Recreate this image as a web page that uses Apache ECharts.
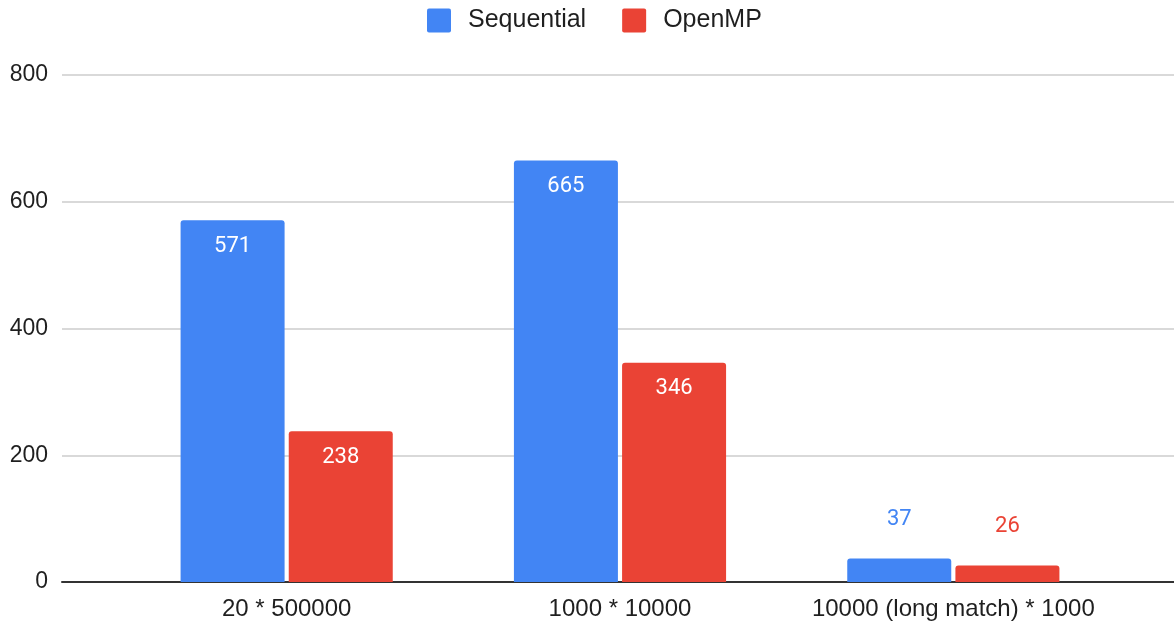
<!DOCTYPE html>
<html>
<head>
<meta charset="utf-8">
<script src="https://cdn.jsdelivr.net/npm/echarts@6/dist/echarts.min.js"></script>
<style>
  html, body { margin: 0; padding: 0; background: #fff; }
  #chart { width: 1174px; height: 623px; }
</style>
</head>
<body>
<div id="chart"></div>
<script>
// Run time per workload (lower is better)
const categories = ['20 * 500000', '1000 * 10000', '10000 (long match) * 1000'];
const seriesNames = ['Sequential', 'OpenMP'];
const sequentialValues = [571, 665, 37];
const openmpValues = [238, 346, 26];
const yMin = 0;
const yMax = 800;
const yInterval = 200;

const colors = ['#4285F4', '#EA4335'];
const textColor = '#1f1f1f';
const axisFont = '"Liberation Sans", Arial, sans-serif';
const labelFont = 'Roboto, "Noto Sans", sans-serif';
// square legend swatch with slightly softened corners
const swatch = 'path://M2,0H22A2,2 0 0 1 24,2V22A2,2 0 0 1 22,24H2A2,2 0 0 1 0,22V2A2,2 0 0 1 2,0Z';

// Tall bars carry their value inside near the top; short bars get it above in the series colour.
function withLabels(values, color) {
  return values.map(v => {
    const inside = v > 100;
    return {
      value: v,
      label: inside
        ? { position: 'insideTop', distance: 15, color: '#ffffff' }
        : { position: 'top', distance: 28, color: color }
    };
  });
}

const chart = echarts.init(document.getElementById('chart'), null, { renderer: 'canvas' });

chart.setOption({
  animation: false,
  color: colors,
  legend: {
    top: 3,
    left: 422,
    itemWidth: 24,
    itemHeight: 24,
    itemGap: 36,
    icon: swatch,
    textStyle: {
      fontFamily: axisFont,
      fontSize: 25,
      color: textColor,
      padding: [0, 0, 0, 12]
    },
    data: seriesNames
  },
  grid: [
    // full-width frame: value axis labels, gridlines and baseline
    { left: 62, right: 0, top: 75, bottom: 41 },
    // bar area
    { left: 120, right: 54, top: 75, bottom: 41 }
  ],
  xAxis: [
    {
      gridIndex: 0,
      type: 'value',
      min: 0,
      max: 1,
      axisLine: { show: true, lineStyle: { color: '#333333', width: 2 } },
      axisTick: { show: false },
      axisLabel: { show: false },
      splitLine: { show: false }
    },
    {
      gridIndex: 1,
      type: 'category',
      data: categories,
      axisLine: { show: false },
      axisTick: { show: false },
      axisLabel: {
        interval: 0,
        margin: 15,
        fontFamily: axisFont,
        fontSize: 24,
        color: textColor
      }
    }
  ],
  yAxis: [
    {
      gridIndex: 0,
      type: 'value',
      min: yMin,
      max: yMax,
      interval: yInterval,
      axisLine: { show: false },
      axisTick: { show: false },
      axisLabel: {
        margin: 14,
        fontFamily: axisFont,
        fontSize: 23,
        color: textColor
      },
      splitLine: { lineStyle: { color: '#cccccc', width: 1.5 } }
    },
    {
      gridIndex: 1,
      type: 'value',
      min: yMin,
      max: yMax,
      interval: yInterval,
      show: false,
      splitLine: { show: false }
    }
  ],
  series: [
    {
      name: seriesNames[0],
      type: 'bar',
      xAxisIndex: 1,
      yAxisIndex: 1,
      barWidth: 104,
      barGap: '4%',
      z: 3,
      itemStyle: { color: colors[0], borderRadius: [3, 3, 0, 0] },
      label: { show: true, fontFamily: labelFont, fontSize: 22 },
      data: withLabels(sequentialValues, colors[0])
    },
    {
      name: seriesNames[1],
      type: 'bar',
      xAxisIndex: 1,
      yAxisIndex: 1,
      barWidth: 104,
      barGap: '4%',
      z: 3,
      itemStyle: { color: colors[1], borderRadius: [3, 3, 0, 0] },
      label: { show: true, fontFamily: labelFont, fontSize: 22 },
      data: withLabels(openmpValues, colors[1])
    }
  ]
});
</script>
</body>
</html>
